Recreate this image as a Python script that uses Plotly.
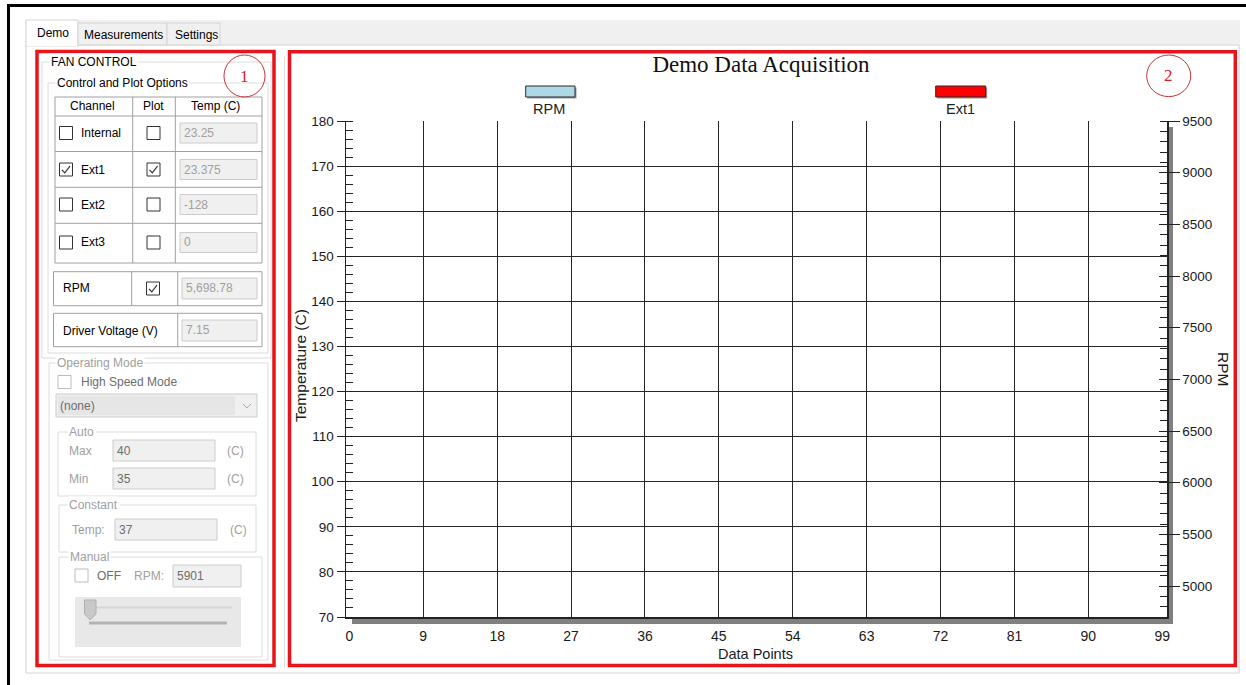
import plotly.graph_objects as go

W, H = 1246, 685

# ---------------- data ----------------
SERIES_NAMES = ["RPM", "Ext1"]
SERIES_COLORS = ["#add8e6", "#ff0000"]
DATA_POINTS = []          # no samples acquired yet
RPM_VALUES = []
EXT1_VALUES = []

X_TICKS = [0, 9, 18, 27, 36, 45, 54, 63, 72, 81, 90, 99]
X_GRID = [9, 18, 27, 36, 45, 54, 63, 72, 81, 90]
TEMP_TICKS = [70, 80, 90, 100, 110, 120, 130, 140, 150, 160, 170, 180]
RPM_TICKS = [5000, 5500, 6000, 6500, 7000, 7500, 8000, 8500, 9000, 9500]

CHART_TITLE = "Demo Data Acquisition"
X_TITLE = "Data Points"
Y_TITLE = "Temperature (C)"
Y2_TITLE = "RPM"

TABS = ["Demo", "Measurements", "Settings"]
TABLE_HEADERS = ["Channel", "Plot", "Temp (C)"]
CHANNELS = ["Internal", "Ext1", "Ext2", "Ext3"]
CHANNEL_CHECKED = [False, True, False, False]
PLOT_CHECKED = [False, True, False, False]
CHANNEL_TEMPS = ["23.25", "23.375", "-128", "0"]
RPM_READING = "5,698.78"
DRIVER_VOLTAGE = "7.15"
COMBO_VALUE = "(none)"
AUTO_MAX = "40"
AUTO_MIN = "35"
CONST_TEMP = "37"
MANUAL_RPM = "5901"

CHART_FONT = "Liberation Sans, Arial, sans-serif"
UI_FONT = "Liberation Sans, Arial, sans-serif"
SERIF = "Liberation Serif, Times New Roman, serif"
DIS = "#a0a0a0"      # disabled text
DIS2 = "#6d6d6d"
RED = "#e8141c"

shapes = []
annos = []


def X(px):
    return px / W


def Y(py):
    return 1 - py / H


def rect(x0, y0, x1, y1, fill="rgba(0,0,0,0)", line=None, lw=1, layer="below"):
    shapes.append(dict(type="rect", xref="paper", yref="paper",
                       x0=X(x0), x1=X(x1), y0=Y(y1), y1=Y(y0),
                       fillcolor=fill,
                       line=dict(color=line if line else "rgba(0,0,0,0)", width=lw if line else 0),
                       layer=layer))


def seg(x0, y0, x1, y1, color, lw=1, layer="below"):
    shapes.append(dict(type="line", xref="paper", yref="paper",
                       x0=X(x0), x1=X(x1), y0=Y(y0), y1=Y(y1),
                       line=dict(color=color, width=lw), layer=layer))


def path(points, color, lw=1.2, fill=None, closed=False, layer="below"):
    d = "M " + " L ".join(f"{X(px):.6f} {Y(py):.6f}" for px, py in points)
    if closed:
        d += " Z"
    shapes.append(dict(type="path", xref="paper", yref="paper", path=d,
                       line=dict(color=color, width=lw),
                       fillcolor=fill if fill else "rgba(0,0,0,0)", layer=layer))


def txt(s, x, y, color="#000", size=12, anchor="left", family=UI_FONT, bg=None, angle=0):
    a = dict(text=s, xref="paper", yref="paper", x=X(x - (1 if anchor == "left" else 0)), y=Y(y),
             xanchor=anchor, yanchor="middle", showarrow=False, textangle=angle,
             font=dict(family=family, size=size, color=color), borderpad=1)
    if bg:
        a["bgcolor"] = bg
    annos.append(a)


def checkbox(x0, yc, checked, enabled=True):
    rect(x0, yc - 6.5, x0 + 13, yc + 6.5, fill="white", line="#333333" if enabled else "#bcbcbc")
    if checked:
        path([(x0 + 2.5, yc + 0.3), (x0 + 5.3, yc + 3.3), (x0 + 10.5, yc - 3.3)], "#333333", lw=1.2)


def textbox(x0, y0, x1, y1, value, color):
    rect(x0, y0, x1, y1, fill="#f0f0f0", line="#cccccc")
    txt(value, x0 + 3, (y0 + y1) / 2, color)


def groupbox(x0, y0, x1, y1, caption, cap_x, cap_color="#000", line="#dcdcdc"):
    rect(x0, y0, x1, y1, line=line)
    txt(caption, cap_x, y0, cap_color, bg="white")


# ---------------- window chrome ----------------
rect(7, 4, 1246, 7, fill="#000000")
rect(7, 4, 10, 685, fill="#000000")
rect(25, 20, 1240, 673, fill="#f0f0f0")
rect(26, 45, 1239, 673, fill="#ffffff", line="#d4d4d4")

tab_boxes = [(26, 20, 78, 46, "#ffffff"), (78, 23, 167, 45, "#f0f0f0"), (167, 23, 220, 45, "#f0f0f0")]
tab_text = [(36, 33), (83, 35), (174, 35)]
for name, (x0, y0, x1, y1, fc), (tx, ty) in zip(TABS, tab_boxes, tab_text):
    rect(x0, y0, x1, y1, fill=fc, line="#d4d4d4")
    txt(name, tx, ty)
seg(27, 45.5, 77, 45.5, "#ffffff", lw=1.5)

# ---------------- left panel ----------------
groupbox(42, 62, 271, 358, "FAN CONTROL", 50)
groupbox(48, 83, 268, 353, "Control and Plot Options", 56)

# table
rect(55, 97, 262, 263, fill="white", line="#a0a0a0")
for xv in (132.7, 175.3):
    seg(xv, 97, xv, 263, "#a0a0a0")
for yv in (116, 151.5, 187.3, 223.3):
    seg(55, yv, 262, yv, "#a0a0a0")
for h, cx in zip(TABLE_HEADERS, (92.5, 153.5, 216)):
    txt(h, cx, 106.5, anchor="center")

ROW_Y = [133, 169.5, 204.5, 242.5]
for name, chk, pchk, temp, yc in zip(CHANNELS, CHANNEL_CHECKED, PLOT_CHECKED, CHANNEL_TEMPS, ROW_Y):
    checkbox(59.5, yc, chk)
    txt(name, 79.5, yc)
    checkbox(147, yc, pchk)
    textbox(180, yc - 10, 257, yc + 10, temp, DIS)

# RPM row
rect(53.5, 271.7, 262, 305.7, fill="white", line="#a0a0a0")
seg(131.7, 271.7, 131.7, 305.7, "#a0a0a0")
seg(177.7, 271.7, 177.7, 305.7, "#a0a0a0")
txt(SERIES_NAMES[0], 61.5, 288.5)
checkbox(146.5, 288.5, True)
textbox(182, 278, 257, 299, RPM_READING, DIS)

# Driver voltage
rect(53.5, 313.3, 262, 346.7, fill="white", line="#a0a0a0")
seg(177.7, 313.3, 177.7, 346.7, "#a0a0a0")
txt("Driver Voltage (V)", 62, 331)
textbox(182, 320, 257, 341, DRIVER_VOLTAGE, DIS)

# Operating mode
groupbox(49, 363, 268, 660, "Operating Mode", 56, cap_color=DIS)
checkbox(58, 382, False, enabled=False)
txt("High Speed Mode", 79.5, 382, DIS2)
rect(56, 394, 257, 417, fill="#f0f0f0", line="#cccccc")
rect(58, 396, 235, 415, fill="#e6e6e6")
txt(COMBO_VALUE, 58.5, 405.5, DIS2)
path([(243, 404), (247, 408), (251, 404)], "#a8a8a8", lw=1)

groupbox(58, 432, 256, 496, "Auto", 68, cap_color=DIS)
txt("Max", 68, 451, DIS)
textbox(113, 440, 215, 461, AUTO_MAX, DIS2)
txt("(C)", 226, 451, DIS)
txt("Min", 68, 478.5, DIS)
textbox(113, 468, 215, 489, AUTO_MIN, DIS2)
txt("(C)", 226, 478.5, DIS)

groupbox(59, 505, 256, 552, "Constant", 67.5, cap_color=DIS)
txt("Temp:", 70.5, 530, DIS)
textbox(115, 519, 217, 540, CONST_TEMP, DIS2)
txt("(C)", 228.5, 530, DIS)

groupbox(59, 557, 262, 657, "Manual", 69, cap_color=DIS)
checkbox(75, 575.5, False, enabled=False)
txt("OFF", 96, 575.5, DIS2)
txt("RPM:", 132.5, 575.5, DIS)
textbox(173, 565, 241, 587, MANUAL_RPM, DIS2)
rect(75, 597, 241, 647, fill="#e8e8e8")
seg(94, 607.5, 232, 607.5, "#d6d6d6", lw=2)
seg(89, 623, 227, 623, "#b4b4b4", lw=3)
path([(84.5, 600), (96, 600), (96, 614), (90.3, 620), (84.5, 614)], "#b0b0b0", lw=1, fill="#c8c8c8", closed=True)

# ---------------- chart panel decorations ----------------
seg(284.5, 56, 284.5, 668, "#dedede")
# 3-D shadow strips on the plot frame
rect(352, 618, 1173, 624, fill="#808080")
rect(1167.5, 127, 1173, 624, fill="#808080")

# custom legend (swatch above, label below)
legend_pos = [(525.7, 575, 549.3), (935.7, 985.7, 960)]
for name, color, (lx0, lx1, lc) in zip(SERIES_NAMES, SERIES_COLORS, legend_pos):
    rect(lx0 + 1.5, 87.5, lx1 + 1.5, 98.5, fill="#9a9a9a")
    rect(lx0, 86, lx1, 97, fill=color, line="#2a2a2a", lw=1)
    txt(name, lc, 109.5, "#222", size=14.5, anchor="center", family=CHART_FONT)

# panel highlight rectangles and numbered circles
rect(37, 51.5, 274, 665.5, line=RED, lw=3.5)
rect(289.5, 51.7, 1235.3, 665.5, line=RED, lw=3.5)
for num, (cx, cy, rx, ry) in zip(["1", "2"], [(244.5, 76, 20.5, 21), (1168.7, 75.8, 22, 20.8)]):
    shapes.append(dict(type="circle", xref="paper", yref="paper",
                       x0=X(cx - rx), x1=X(cx + rx), y0=Y(cy + ry), y1=Y(cy - ry),
                       line=dict(color="#c8323a", width=1), layer="below"))
    txt(num, cx, cy, "#d0212b", size=17, anchor="center", family=SERIF)

# axis titles
txt(X_TITLE, 755, 654, "#1a1a1a", size=14.5, anchor="center", family=CHART_FONT)
txt(Y_TITLE, 301, 366, "#1a1a1a", size=15.5, anchor="center", family=CHART_FONT, angle=-90)
txt(Y2_TITLE, 1224, 369, "#1a1a1a", size=15.5, anchor="center", family=CHART_FONT, angle=90)

# ---------------- figure ----------------
fig = go.Figure()
fig.add_trace(go.Scatter(x=DATA_POINTS, y=RPM_VALUES, name=SERIES_NAMES[0], mode="lines",
                         line=dict(color=SERIES_COLORS[0], width=2), yaxis="y2"))
fig.add_trace(go.Scatter(x=DATA_POINTS, y=EXT1_VALUES, name=SERIES_NAMES[1], mode="lines",
                         line=dict(color=SERIES_COLORS[1], width=2), yaxis="y"))
# helper traces so the grid / tick overlay axes are rendered
fig.add_trace(go.Scatter(x=[], y=[], xaxis="x2", yaxis="y", showlegend=False, hoverinfo="skip"))
fig.add_trace(go.Scatter(x=[], y=[], xaxis="x", yaxis="y3", showlegend=False, hoverinfo="skip"))

XR = [-0.41, 99.58]
YR = [70, 180]
Y2R = [4700, 9500]
xdom = [X(346), X(1167)]
ydom = [Y(617), Y(121)]
tickfont = dict(family=CHART_FONT, size=13.5, color="#1a1a1a")
GRID = "#262626"

fig.update_layout(
    template="none",
    width=W, height=H, autosize=False,
    margin=dict(l=0, r=0, t=0, b=0, pad=0, autoexpand=False),
    paper_bgcolor="#ffffff", plot_bgcolor="#ffffff",
    showlegend=False,
    title=dict(text=CHART_TITLE, x=X(761), y=Y(63.5), xref="paper", yref="paper",
               xanchor="center", yanchor="middle", automargin=False,
               font=dict(family=SERIF, size=23, color="#111111")),
    xaxis=dict(domain=xdom, range=XR, anchor="y", tickmode="array", tickvals=X_TICKS,
               showgrid=False, zeroline=False, showline=True, linecolor="#222222", linewidth=1.5,
               ticks="", ticklabelstandoff=6, tickfont=dict(family=CHART_FONT, size=14, color="#1a1a1a"),
               automargin=False, fixedrange=True),
    xaxis2=dict(overlaying="x", anchor="y", range=XR, tickmode="array", tickvals=X_GRID,
                showgrid=True, gridcolor=GRID, gridwidth=1, showticklabels=False, ticks="",
                showline=False, zeroline=False, automargin=False, fixedrange=True),
    yaxis=dict(domain=ydom, range=YR, anchor="x", tickmode="array", tickvals=TEMP_TICKS,
               showgrid=True, gridcolor=GRID, gridwidth=1, zeroline=False,
               showline=True, linecolor="#222222", linewidth=1.5,
               ticks="outside", ticklen=8, tickcolor="#222222", tickwidth=1,
               minor=dict(tickmode="linear", tick0=70, dtick=2, ticks="inside", ticklen=7,
                          tickcolor="#222222", tickwidth=1, showgrid=False),
               tickfont=tickfont, automargin=False, fixedrange=True),
    yaxis2=dict(overlaying="y", anchor="x", side="right", range=Y2R, tickmode="array", tickvals=RPM_TICKS,
                showgrid=False, zeroline=False, showline=True, linecolor="#222222", linewidth=1.5,
                ticks="outside", ticklen=11, tickcolor="#222222", tickwidth=1,
                minor=dict(tickmode="linear", tick0=4700, dtick=100, ticks="inside", ticklen=7,
                           tickcolor="#222222", tickwidth=1, showgrid=False),
                tickfont=tickfont, automargin=False, fixedrange=True),
    yaxis3=dict(overlaying="y", anchor="x", side="right", range=Y2R, tickmode="array", tickvals=RPM_TICKS,
                showgrid=False, zeroline=False, showline=False, showticklabels=False,
                ticks="inside", ticklen=8, tickcolor="#222222", tickwidth=1,
                automargin=False, fixedrange=True),
    shapes=shapes,
    annotations=annos,
)

fig.write_html("out.html", config={"displayModeBar": False, "staticPlot": True},
               post_script="document.body.style.margin='0px';document.body.style.overflow='hidden';")
